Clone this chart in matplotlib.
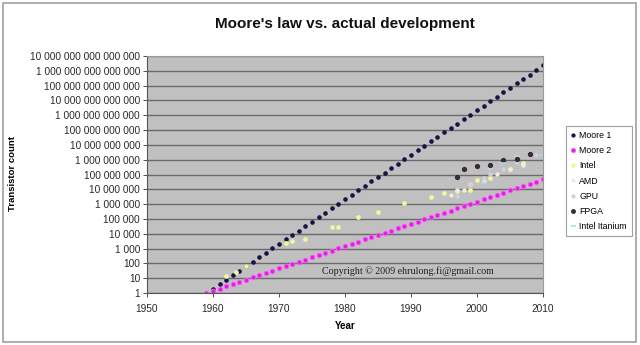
import numpy as np
import matplotlib
matplotlib.use("Agg")
from matplotlib import pyplot as plt
from matplotlib.patches import Rectangle
from matplotlib.ticker import FixedLocator, FuncFormatter

plt.rcParams['font.family'] = ['Liberation Sans', 'DejaVu Sans']

# Moore 1: doubling every year, 1960..2010
moore1_years = list(range(1960, 2011))
moore1 = [2, 4, 8, 16, 32, 64, 128, 256, 512, 1024, 2048, 4096, 8192, 16384,
          32768, 65536, 131072, 262144, 524288, 1048576, 2.1e6, 4.2e6, 8.4e6,
          1.7e7, 3.4e7, 6.7e7, 1.3e8, 2.7e8, 5.4e8, 1.1e9, 2.1e9, 4.3e9, 8.6e9,
          1.7e10, 3.4e10, 6.9e10, 1.4e11, 2.7e11, 5.5e11, 1.1e12, 2.2e12, 4.4e12,
          8.8e12, 1.8e13, 3.5e13, 7.0e13, 1.4e14, 2.8e14, 5.6e14, 1.1e15, 2.3e15]

# Moore 2: doubling every two years, 1959..2010
moore2_years = list(range(1959, 2011))
moore2 = [1, 1.41, 2, 2.83, 4, 5.66, 8, 11.3, 16, 22.6, 32, 45.3, 64, 90.5, 128,
          181, 256, 362, 512, 724, 1024, 1448, 2048, 2896, 4096, 5793, 8192,
          11585, 16384, 23170, 32768, 46341, 65536, 92682, 131072, 185364,
          262144, 370728, 524288, 741455, 1048576, 1.48e6, 2.10e6, 2.97e6,
          4.19e6, 5.93e6, 8.39e6, 1.19e7, 1.68e7, 2.37e7, 3.36e7, 4.75e7]

intel_years = [1962, 1963.5, 1965, 1971, 1972, 1974, 1978, 1979, 1982, 1985,
               1989, 1993, 1995, 1997, 1999, 2000, 2002, 2005, 2007]
intel = [14, 26, 70, 2300, 3500, 4500, 29000, 29000, 134000, 275000, 1.2e6,
         3.1e6, 5.5e6, 7.5e6, 9.5e6, 4.2e7, 5.5e7, 2.3e8, 5.8e8]

amd_years = [1996, 1997, 1998, 1999, 2001, 2003, 2005, 2007]
amd = [4.3e6, 8.8e6, 9.3e6, 2.2e7, 3.75e7, 1.06e8, 2.43e8, 4.5e8]

gpu_years = [1997, 1999, 2001, 2002, 2004, 2006, 2009]
gpu = [3.5e6, 2.3e7, 5.7e7, 1.07e8, 2.22e8, 6.81e8, 2.15e9]

fpga_years = [1997, 1998, 2000, 2002, 2004, 2006, 2008]
fpga = [6.8e7, 2.4e8, 3.8e8, 4.4e8, 9.5e8, 1.1e9, 2.4e9]

itanium_years = [2001, 2002, 2004, 2006, 2010]
itanium = [2.5e7, 2.2e8, 5.9e8, 1.7e9, 2.0e9]

fig = plt.figure(figsize=(6.4, 3.45), dpi=100)
fig.patch.set_facecolor('white')
fig.patches.append(Rectangle((0.004, 0.01), 0.99, 0.98, transform=fig.transFigure,
                             fill=False, edgecolor='#a0a0a0', linewidth=1.2))

ax = fig.add_axes([0.2297, 0.1507, 0.6187, 0.687])
ax.set_facecolor('#c0c0c0')
ax.set_yscale('log')
ax.set_xlim(1950, 2010)
ax.set_ylim(1, 1e16)

yt = [10 ** k for k in range(17)]
ax.yaxis.set_major_locator(FixedLocator(yt))
ax.yaxis.set_minor_locator(FixedLocator([]))
ax.yaxis.set_major_formatter(FuncFormatter(lambda v, p: f"{int(round(v)):,}".replace(",", " ")))
ax.set_xticks(range(1950, 2011, 10))
ax.grid(axis='y', color='#6a6a6a', linewidth=1.0)
ax.set_axisbelow(True)
ax.tick_params(axis='both', labelsize=7.3, colors='#333333', length=3, width=0.6,
               labelcolor='#2a2a2a')
ax.tick_params(axis='y', pad=2)
ax.tick_params(axis='x', pad=5)
for side in ['top', 'right']:
    ax.spines[side].set_color('#9a9a9a')
for side in ['left', 'bottom']:
    ax.spines[side].set_color('#555555')
    ax.spines[side].set_linewidth(0.8)

ax.plot(moore1_years, moore1, 'o', color='#151545', markersize=2.3, label='Moore 1')
ax.plot(moore2_years, moore2, 'o', color='#e020e0', markersize=3.4,
        markeredgecolor='#ff60ff', markeredgewidth=0.6, label='Moore 2')
ax.plot(intel_years, intel, 'o', color='#f4f4a0', markersize=2.4, label='Intel')
ax.plot(amd_years, amd, 'o', color='#ececdf', markersize=2.2, label='AMD')
ax.plot(gpu_years, gpu, 'o', color='#d0d0e0', markersize=2.2, label='GPU')
ax.plot(fpga_years, fpga, 'o', color='#3a2a3a', markersize=2.8, label='FPGA')
ax.plot(itanium_years, itanium, '_', color='#a8dce0', markersize=4,
        markeredgewidth=1.2, label='Intel Itanium')

ax.text(1976.5, 3.0e1, 'Copyright © 2009 ehrulong.fi@gmail.com', fontsize=7.2,
        family=['Liberation Serif', 'DejaVu Serif'], color='#202020', va='center')

ax.set_title("Moore's law vs. actual development", fontsize=11, fontweight='bold',
             pad=20, color='#111111')
ax.set_xlabel('Year', fontsize=7, fontweight='bold', labelpad=5)
ax.set_ylabel('Transistor count', fontsize=6.8, fontweight='bold')
ax.yaxis.set_label_coords(-0.328, 0.506)

leg = fig.legend(loc='upper left', bbox_to_anchor=(0.877, 0.648), fontsize=6.3,
                 frameon=True, fancybox=False, edgecolor='#888888',
                 handlelength=0.6, handletextpad=0.4, labelspacing=0.72,
                 borderpad=0.55, markerscale=0.9)
leg.get_frame().set_linewidth(0.8)

fig.savefig('out.png', dpi=100)
